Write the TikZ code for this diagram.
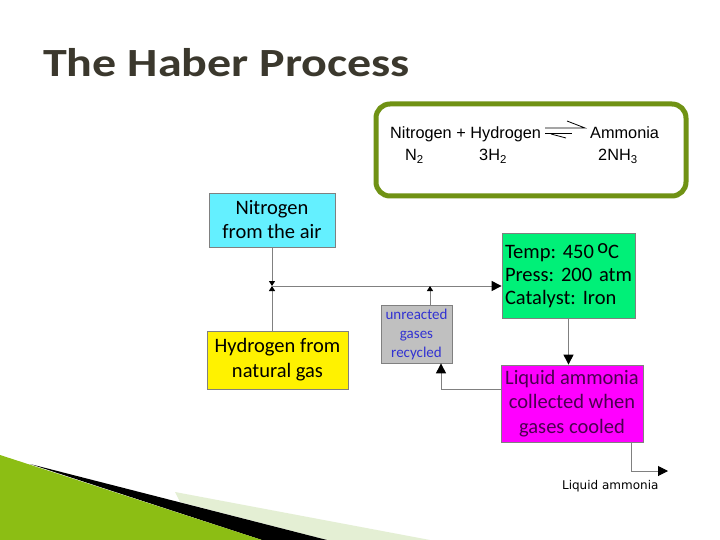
\documentclass[tikz,border=0pt]{standalone}
\usepackage{fontspec}
\setmainfont{Carlito}
\newfontfamily\arialfont{Liberation Sans}
\newfontfamily\labelfont{DejaVu Sans}
\usetikzlibrary{arrows.meta,positioning}
\definecolor{titlegrey}{RGB}{59,56,45}
\definecolor{framegreen}{RGB}{112,146,20}
\definecolor{aircyan}{RGB}{100,240,255}
\definecolor{reactgreen}{RGB}{0,240,120}
\definecolor{recycgrey}{RGB}{192,192,192}
\definecolor{recycblue}{RGB}{50,50,210}
\definecolor{coolmagenta}{RGB}{255,0,255}
\definecolor{darkplum}{RGB}{75,0,80}
\definecolor{leafgreen}{RGB}{140,190,20}
\definecolor{palegreen}{RGB}{228,239,212}
\frenchspacing

\begin{document}
\begin{tikzpicture}[x=1pt,y=-1pt,
                box/.style={draw=gray,line width=0.8pt,inner sep=3pt,
                  align=center,font=\fontsize{20.5}{24}\selectfont},
                line/.style={draw=gray,line width=1pt},
                tipsmall/.style={-{Triangle[length=5pt,width=6pt,color=black]}},
                tipbig/.style={-{Triangle[length=10pt,width=10pt,color=black]}}
                ]
  \useasboundingbox[fill=white] (0,0) rectangle (720,540);
  % corner decoration
  \fill[palegreen] (175,492) -- (430,540) -- (327,540) -- (180,502) -- cycle;
  \fill[black] (30,464) -- (327,540) -- (262,540) -- cycle;
  \fill[leafgreen] (0,455) -- (262,540) -- (0,540) -- cycle;

  \node[anchor=west,text=titlegrey,font=\fontsize{40}{44}\selectfont\bfseries,inner sep=0pt]
    (title) at (43,63) {\scalebox{1.2}[1]{The Haber Process}};

  % equation
  \draw[framegreen,line width=5pt,rounded corners=14pt] (376,104) rectangle (686,196);
  \begin{scope}[font=\arialfont\fontsize{16.3}{18}\selectfont]
    \node[anchor=base west,inner sep=0pt] (reactants) at (390,139) {Nitrogen + Hydrogen};
    \node[anchor=base west,inner sep=0pt] (product) at (590,139) {Ammonia};
    \node[anchor=base west,inner sep=0pt] (ntwo) at (405,161) {N\textsubscript{2}};
    \node[anchor=base west,inner sep=0pt] (htwo) at (479,161) {3H\textsubscript{2}};
    \node[anchor=base west,inner sep=0pt] (nhthree) at (598,161) {2NH\textsubscript{3}};
  \end{scope}
  \draw[line width=0.8pt] (545,128) -- (585,128) -- (567,121);
  \draw[line width=0.8pt] (545,133) -- (572,133);
  \draw[line width=0.8pt] (551,134) -- (566,138);

  % flow chart
  \node[box,fill=aircyan,minimum width=126pt,minimum height=54pt] (nitro) at (272,220)
    {Nitrogen\\from the air};
  \node[box,fill=yellow,minimum width=141pt,minimum height=58pt,
    font=\fontsize{20.5}{25}\selectfont] (hydro) at (277.5,360)
    {Hydrogen from\\natural gas};
  \node[box,fill=reactgreen,minimum width=133pt,minimum height=85pt,align=left,
    text width=127pt,font=\fontsize{20.5}{23}\selectfont] (reactor) at (568.5,275.5)
    {Temp: 450\,\raisebox{0.45ex}{o}C\\Press: 200 atm\\Catalyst: Iron};
  \node[box,fill=recycgrey,minimum width=71pt,minimum height=58pt,text=recycblue,
    font=\fontsize{15}{19}\selectfont] (recycle) at (416.5,334)
    {unreacted\\gases\\recycled};
  \node[box,fill=coolmagenta,minimum width=142pt,minimum height=77pt,text=darkplum,
    font=\fontsize{20.5}{24.5}\selectfont] (cooler) at (572,403.5)
    {Liquid ammonia\\collected when\\gases cooled};

  \coordinate (mix) at (272,286);
  \coordinate (tee) at (430,286);
  \coordinate (back) at (441,389);
  \coordinate (drain) at (631,471);
  \coordinate (out) at (668,471);

  \draw[line,tipsmall] (nitro) -- (mix);
  \draw[line,tipsmall] (hydro.north -| mix) -- (mix);
  \draw[line,tipbig] (mix) -- (mix -| reactor.west);
  \draw[line,tipsmall] (recycle.north -| tee) -- (tee);
  \draw[line,tipbig] (back -| cooler.west) -- (back) -- (back |- recycle.south);
  \draw[line,tipbig] (reactor.south) -- (reactor.south |- cooler.north);
  \draw[line,tipbig] (drain |- cooler.south) -- (drain) -- (out);

  \node[font=\labelfont\fontsize{12}{14}\selectfont,below left=6pt and 6pt of out]
    (product label) {Liquid ammonia};
\end{tikzpicture}
\end{document}
